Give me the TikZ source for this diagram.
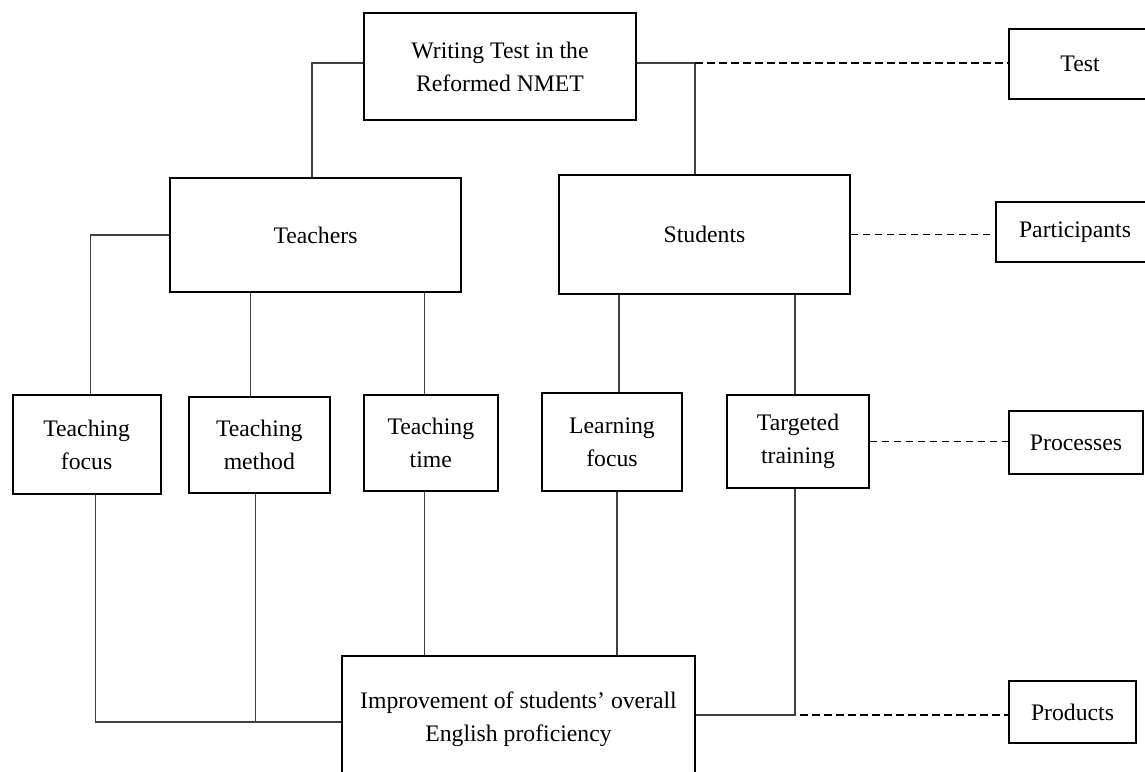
\documentclass[tikz,border=0pt]{standalone}
\usepackage{fontspec}
\setmainfont{Liberation Serif}
\begin{document}
\begin{tikzpicture}[x=1pt,y=-1pt,
  box/.style={draw=black, line width=1.9pt, inner sep=0pt, align=center,
    font=\fontsize{23.7}{33}\selectfont},
  link/.style={draw=black!75, line width=1.1pt},
  dashlink/.style={draw=black, line width=1.3pt, dash pattern=on 7.5pt off 4.5pt}]
\useasboundingbox (0,0) rectangle (1145,771);
\clip (0,0) rectangle (1145,771);
\fill[white] (0,0) rectangle (1145,771);

% top level
\node[box, minimum width=272pt, minimum height=107pt] (wt) at (500,66.5) {Writing Test in the\\Reformed NMET};
\node[box, minimum width=142pt, minimum height=70pt] (test) at (1080,64) {Test};

% participants
\node[box, minimum width=291pt, minimum height=114pt] (teachers) at (315.5,235) {Teachers};
\node[box, minimum width=291pt, minimum height=119pt] (students) at (704.5,234.5) {Students};
\node[box, minimum width=158pt, minimum height=60pt] (part) at (1075,232) {Participants};

% processes
\node[box, minimum width=148pt, minimum height=99pt] (tf) at (86.6,444.5) {Teaching\\focus};
\node[box, minimum width=141pt, minimum height=96pt] (tm) at (259.3,445) {Teaching\\method};
\node[box, minimum width=134pt, minimum height=96pt] (tt) at (430.8,443) {Teaching\\time};
\node[box, minimum width=140pt, minimum height=98pt] (lf) at (612,442) {Learning\\focus};
\node[box, minimum width=142pt, minimum height=93pt] (tg) at (798,441.5) {Targeted\\training};
\node[box, minimum width=134pt, minimum height=63pt] (proc) at (1076,442.5) {Processes};

% products
\node[box, minimum width=353pt, minimum height=126pt] (imp) at (518.5,719) {Improvement of students’ overall\\English proficiency};
\node[box, minimum width=127pt, minimum height=62pt] (prod) at (1072.5,712) {Products};

% anchor points on the boxes
\coordinate (wtW) at ([yshift=3.5pt]wt.west);
\coordinate (wtE) at ([yshift=3.5pt]wt.east);
\coordinate (teN) at ([xshift=-3.5pt]teachers.north);
\coordinate (stN) at ([xshift=-9.5pt]students.north);
\coordinate (tfN) at ([xshift=4pt]tf.north);
\coordinate (tmN) at ([xshift=-9pt]tm.north);
\coordinate (ttN) at ([xshift=-6pt]tt.north);
\coordinate (lfN) at ([xshift=7pt]lf.north);
\coordinate (tgN) at ([xshift=-3pt]tg.north);
\coordinate (tfS) at ([xshift=9pt]tf.south);
\coordinate (tmS) at ([xshift=-4pt]tm.south);
\coordinate (ttS) at ([xshift=-6pt]tt.south);
\coordinate (lfS) at ([xshift=5pt]lf.south);
\coordinate (tgS) at ([xshift=-3pt]tg.south);
\coordinate (impW) at ([yshift=-3pt]imp.west);
\coordinate (impE) at ([yshift=4pt]imp.east);

% junctions
\coordinate (jl) at (teN |- wtW);
\coordinate (jr) at (stN |- wtE);
\coordinate (jt) at (tfN |- teachers.west);
\coordinate (jb1) at (tfS |- impW);
\coordinate (jb2) at (tmS |- impW);
\coordinate (jg) at (tgS |- impE);

% top connectors
\draw[link] (wtW) -- (jl) -- (teN);
\draw[link] (wtE) -- (jr) -- (stN);
\draw[dashlink] (jr) -- (test.west |- jr);

% teachers to processes
\draw[link] (teachers.west) -- (jt) -- (tfN);
\draw[link] (tmN |- teachers.south) -- (tmN);
\draw[link] (ttN |- teachers.south) -- (ttN);

% students to processes
\draw[link] (lfN |- students.south) -- (lfN);
\draw[link] (tgN |- students.south) -- (tgN);
\draw[dashlink] (students.east) -- (part.west |- students.east);
\draw[dashlink] (tg.east) -- (proc.west |- tg.east);

% processes to products
\draw[link] (tfS) -- (jb1) -- (impW);
\draw[link] (tmS) -- (jb2);
\draw[link] (ttS) -- (ttS |- imp.north);
\draw[link] (lfS) -- (lfS |- imp.north);
\draw[link] (tgS) -- (jg) -- (impE);
\draw[dashlink] ([xshift=5pt]jg) -- (prod.west |- jg);
\end{tikzpicture}
\end{document}
